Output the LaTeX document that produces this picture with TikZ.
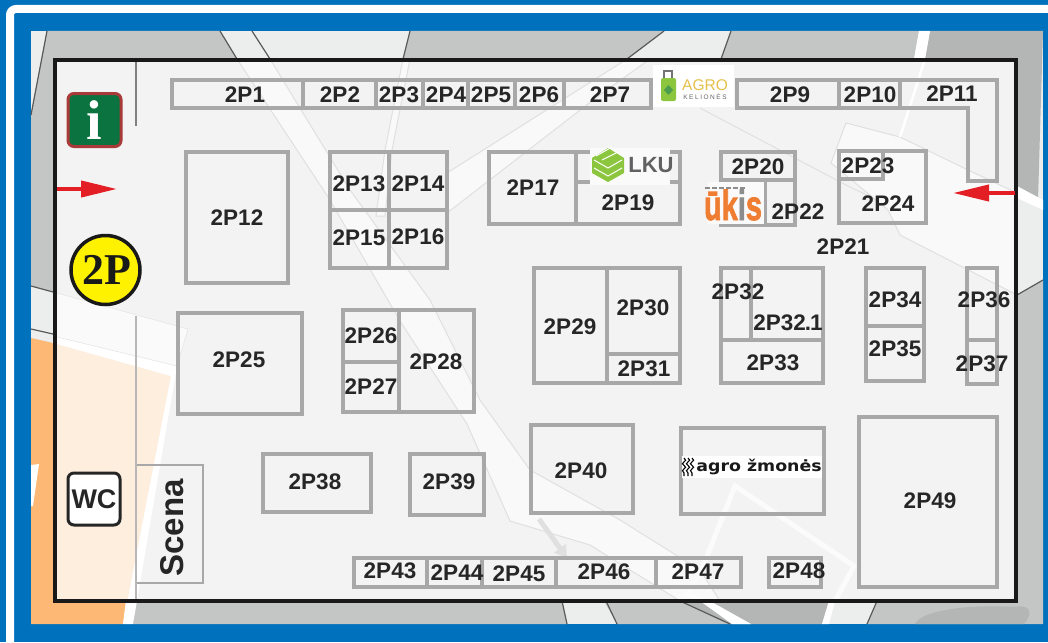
\documentclass[tikz,border=0pt]{standalone}
\usepackage{fontspec}
\setmainfont{Liberation Sans}
\newfontfamily\bookfont{Liberation Serif}
\newfontfamily\dejafont{DejaVu Sans}
\usetikzlibrary{arrows.meta,decorations.pathmorphing}
\definecolor{frameblue}{HTML}{0071BC}
\definecolor{roadgray}{HTML}{ECEDED}
\definecolor{housegray}{HTML}{C4C6C6}
\definecolor{darkhouse}{HTML}{B4B5B5}
\definecolor{hallgray}{HTML}{F3F3F3}
\definecolor{roadline}{HTML}{E0E0E0}
\definecolor{boothgray}{HTML}{A8A8A8}
\definecolor{orangeout}{HTML}{FCB874}
\definecolor{orangein}{HTML}{FDEEDD}
\definecolor{arrowred}{HTML}{E31E24}
\definecolor{logogreen}{HTML}{8CC63F}
\definecolor{logoorange}{HTML}{EF7D32}
\definecolor{logoyellow}{HTML}{E5C04A}
\definecolor{infogreen}{HTML}{0B7340}
\definecolor{infored}{HTML}{A83A3A}
\tikzset{
  booth/.style={draw=boothgray, line width=3.2pt},
  stand/.style={font=\bfseries\fontsize{22.5}{22.5}\selectfont, text=black!85, inner sep=0pt},
  edge/.style={draw=black!65, line width=1.2pt},
  faint/.style={fill=white!50!hallgray, draw=roadline, line width=1pt},
  wave/.style={draw=black, line width=1.1pt, decorate, decoration={snake, amplitude=1.6pt, segment length=7pt}},
}
\begin{document}
\begin{tikzpicture}[x=1pt,y=-1pt]
\useasboundingbox (0,0) rectangle (1048,642);
\clip (0,0) rectangle (1048,642);
\fill[frameblue] (0,0) rectangle (1048,642);
\draw[white, line width=8pt, rounded corners=6pt] (1070,9) -- (10,9) -- (10,670);
% map behind the hall
\fill[roadgray] (31,31) rectangle (1043,624);
\fill[housegray] (47,31) -- (220,31) -- (237,59) -- (53,59) -- (53,292) -- (31,286) -- (31,115) -- cycle;
\fill[housegray] (410,31) -- (664,31) -- (627,59) -- (403,59) -- cycle;
\fill[housegray] (731,31) -- (919,31) -- (914,59) -- (721,59) -- cycle;
\fill[darkhouse] (930,31) -- (1043,31) -- (1038,200) -- (1017,193) -- (1017,59) -- (925,59) -- cycle;
\fill[white] (919,31) -- (930,31) -- (925,59) -- (914,59) -- cycle;
\fill[white] (1017,186) -- (1043,200) -- (1043,210) -- (1017,198) -- cycle;
\fill[housegray] (1017,295) -- (1043,280) -- (1043,624) -- (867,624) -- (877,601) -- (1017,601) -- cycle;
\fill[darkhouse] (1014,607) .. controls (1030,604) and (1034,612) .. (1024,624) -- (915,624) .. controls (920,612) and (960,604) .. (1014,607) -- cycle;
\fill[housegray] (133,601) -- (562,601) -- (567,624) -- (133,624) -- cycle;
\fill[housegray] (604,601) -- (680,601) -- (730,624) -- (617,624) -- cycle;
\fill[darkhouse] (680,601) -- (829,601) -- (822,624) -- (730,624) -- cycle;
\fill[white] (700,601) -- (710,601) -- (751,624) -- (732,624) -- cycle;
\fill[white] (829,601) -- (835,601) -- (829,624) -- (822,624) -- cycle;
\fill[orangeout] (31,338) -- (53,343) -- (53,601) -- (126,601) -- (123,624) -- (31,624) -- cycle;
\fill[white] (126,601) -- (137,601) -- (133,624) -- (123,624) -- cycle;
\fill[white] (31,465) -- (39,464) -- (33,506) -- (31,506) -- cycle;
\draw[edge] (47,31) -- (31,115);
\draw[edge] (220,31) -- (237,59);
\draw[edge] (252,31) -- (270,59);
\draw[edge] (410,31) -- (403,59);
\draw[edge] (664,31) -- (627,59);
\draw[edge] (731,31) -- (721,59);
\draw[edge] (31,286) -- (53,292);
\draw[edge] (31,329) -- (53,334);
\draw[edge] (1017,295) -- (1043,280);
\draw[edge] (562,601) -- (567,624);
\draw[edge] (606,601) -- (617,624);
\draw[edge] (680,601) -- (730,624);
\draw[edge] (877,601) -- (867,624);
% hall floor
\fill[hallgray] (55,60) rectangle (1016,601);
\begin{scope}
\clip (55,60) rectangle (1016,601);
\fill[orangein] (53,343) -- (171,376) -- (123,624) -- (53,624) -- cycle;
\fill[white] (53,336) -- (177,366) -- (133,624) -- (123,624) -- (171,376) -- (53,343) -- cycle;
\fill[white!60!hallgray, draw=roadline] (53,292) -- (188,329) -- (177,366) -- (53,336) -- cycle;
\path[faint] (237,59) -- (270,59) -- (350,190) -- (430,300) -- (480,400) -- (530,470) -- (620,520) -- (700,570) -- (720,601) -- (680,601) -- (590,545) -- (510,521) -- (467,424) -- (400,321) -- (330,200) -- cycle;
\path[faint] (627,59) -- (447,173) -- (447,213) -- (597,97) -- (650,59) -- cycle;
\path[faint] (403,59) -- (410,59) -- (392,150) -- (385,216) -- (376,216) -- (385,150) -- cycle;
\draw[roadline, line width=1pt] (700,108) -- (846,185) -- (1016,267);
\path[faint] (846,123) -- (900,137) -- (968,170) -- (1017,193) -- (1017,295) -- (900,235) -- (888,210) -- (831,163) -- cycle;
\draw[white, line width=2.5pt] (925,59) -- (900,137);
\draw[white!70!hallgray, line width=5pt] (829,612) -- (854,566) -- (735,486) -- (701,571) -- (687,594) -- (751,622);
\draw[roadline, line width=5pt, -{Triangle[length=12pt,width=14pt]}] (539,519) -- (567,558);
\end{scope}
% booths
\draw[booth] (172,80) rectangle (651,108);
\draw[booth] (303,80) -- (303,108);
\draw[booth] (376,80) -- (376,108);
\draw[booth] (423,80) -- (423,108);
\draw[booth] (468,80) -- (468,108);
\draw[booth] (515,80) -- (515,108);
\draw[booth] (564,80) -- (564,108);
\draw[booth] (737,80) rectangle (900,108);
\draw[booth] (839,80) -- (839,108);
\draw[booth] (900,80) -- (997,80) -- (997,181) -- (968,181) -- (968,108) -- (900,108);
\draw[booth] (186,152) rectangle (288,283);
\draw[booth] (330,152) rectangle (447,268);
\draw[booth] (389,152) -- (389,268);
\draw[booth] (330,210) -- (447,210);
\draw[booth] (489,152) rectangle (680,224);
\draw[booth] (576,152) -- (576,224);
\draw[booth] (576,182) -- (680,182);
\draw[booth] (721,152) rectangle (795,225);
\draw[booth] (721,180) -- (795,180);
\draw[booth] (765,180) -- (765,225);
\draw[booth] (839,151) rectangle (926,223);
\draw[booth] (839,179) -- (883,179) -- (883,151);
\draw[booth] (534,268) rectangle (680,383);
\draw[booth] (607,268) -- (607,383);
\draw[booth] (607,354) -- (680,354);
\draw[booth] (721,268) rectangle (823,383);
\draw[booth] (751,268) -- (751,340);
\draw[booth] (721,340) -- (823,340);
\draw[booth] (866,268) rectangle (924,381);
\draw[booth] (866,326) -- (924,326);
\draw[booth] (967,268) rectangle (997,384);
\draw[booth] (967,340) -- (997,340);
\draw[booth] (178,313) rectangle (302,414);
\draw[booth] (343,310) rectangle (474,412);
\draw[booth] (399,310) -- (399,412);
\draw[booth] (343,362) -- (399,362);
\draw[booth] (263,454) rectangle (371,512);
\draw[booth] (410,454) rectangle (484,515);
\draw[booth] (531,425) rectangle (633,513);
\draw[booth] (681,428) rectangle (824,514);
\draw[booth] (859,417) rectangle (997,587);
\draw[booth] (354,558) rectangle (741,587);
\draw[booth] (427,558) -- (427,587);
\draw[booth] (482,558) -- (482,587);
\draw[booth] (556,558) -- (556,587);
\draw[booth] (656,558) -- (656,587);
\draw[booth] (769,558) rectangle (821,587);
\draw[boothgray, line width=2pt] (136,465) rectangle (203,583);
\draw[boothgray!80!hallgray, line width=2pt] (136,316) -- (136,601);
\draw[black!50, line width=2pt] (136,62) -- (136,126);
% frame
\draw[black!90, line width=4pt] (55,60) rectangle (1016,601);
% logos
\fill[white] (653,65) rectangle (734,107);
\fill[white!60!hallgray] (590,148) rectangle (670,185);
\fill[white!60!hallgray] (708,182) rectangle (764,224);
\fill[white] (682,456) rectangle (822,478);
\draw[black!55, line width=1.2pt] (664,78) -- (664,71) -- (672,71) -- (672,78);
\fill[logogreen, rounded corners=2pt] (661,78) rectangle (676,101);
\fill[green!45!black!70] (668.5,85) -- (673,90) -- (668.5,95) -- (664,90) -- cycle;
\node[text=logoyellow, font=\fontsize{15.5}{16}\selectfont, inner sep=0pt] (agrotxt) at (705,85.5) {AGRO};
\node[text=black!60, font=\fontsize{6.5}{6.5}\selectfont\addfontfeature{LetterSpace=24}, inner sep=0pt] (kelionestxt) at (705,96.5) {KELIONĖS};
\fill[logogreen] (608,148) -- (624,158) -- (624,173) -- (608,182) -- (592,173) -- (592,158) -- cycle;
\draw[white, line width=1pt] (594,160) -- (608,168) -- (622,160);
\draw[white, line width=1pt] (594,168) -- (608,176) -- (622,168);
\draw[white, line width=1pt] (596,156) -- (612,147);
\draw[white, line width=1pt] (602,160) -- (618,152);
\node[text=black!62, font=\bfseries\fontsize{22}{22}\selectfont, inner sep=0pt] (lkutxt) at (651,165) {LKU};
\node[font=\bfseries\fontsize{42}{42}\selectfont\addfontfeature{FakeBold=2}, xscale=.69, transform shape, inner sep=0pt, text=logoorange] (ukistxt) at (733,205) {ūk\textcolor{black!45}{i}s};
\draw[black!45, line width=2pt, dash pattern=on 5pt off 2pt] (705,188) -- (746,188);
\node[font=\dejafont\bfseries\fontsize{15.5}{16}\selectfont, xscale=1.12, transform shape, inner sep=0pt, text=black!90] (zmonestxt) at (759,467) {agro žmonės};
\draw[wave] (684,458) -- (684,476);
\draw[wave] (688,458) -- (688,476);
\draw[wave] (692,458) -- (692,476);
% signs
\node[draw=infored, fill=infogreen, line width=3pt, rounded corners=6pt, minimum width=53pt, minimum height=53pt, text=white, font=\bookfont\bfseries\fontsize{56}{56}\selectfont, inner sep=0pt] (infosign) at (94.5,120) {i};
\node[circle, draw=black!90, fill=yellow, line width=3.5pt, minimum size=69pt, inner sep=0pt, text=black!90, font=\bookfont\bfseries\fontsize{44}{44}\selectfont] (parksign) at (105.5,270) {\kern3pt 2P};
\node[draw=black!85, fill=white, line width=3pt, rounded corners=6pt, minimum width=52pt, minimum height=52pt, inner sep=0pt, text=black!85, font=\bfseries\fontsize{27}{27}\selectfont] (wcsign) at (94,499) {WC};
\node[rotate=90, inner sep=0pt, text=black!85, font=\bfseries\fontsize{33}{33}\selectfont] (scena) at (172,528) {Scena};
% arrows
\coordinate (inL) at (57,189);
\coordinate (inLtip) at (117,189);
\coordinate (inR) at (1015,193);
\coordinate (inRtip) at (953,193);
\draw[arrowred, line width=4pt, -{Triangle[length=36pt,width=16pt]}] (inL) -- (inLtip);
\draw[arrowred, line width=4pt, -{Triangle[length=36pt,width=16pt]}] (inR) -- (inRtip);
% numbers
\node[stand] (p1) at (245,95) {2P1};
\node[stand] (p2) at (340,95) {2P2};
\node[stand] (p3) at (399,95) {2P3};
\node[stand] (p4) at (446,95) {2P4};
\node[stand] (p5) at (491,95) {2P5};
\node[stand] (p6) at (539,95) {2P6};
\node[stand] (p7) at (610,95) {2P7};
\node[stand] (p9) at (790,95) {2P9};
\node[stand] (p10) at (870,95) {2P10};
\node[stand] (p11) at (952,94) {2P11};
\node[stand] (p12) at (237,218) {2P12};
\node[stand] (p13) at (359,184) {2P13};
\node[stand] (p14) at (418,184) {2P14};
\node[stand] (p15) at (359,238) {2P15};
\node[stand] (p16) at (418,237) {2P16};
\node[stand] (p17) at (533,188) {2P17};
\node[stand] (p19) at (628,203) {2P19};
\node[stand] (p20) at (758,167) {2P20};
\node[stand] (p21) at (843,247) {2P21};
\node[stand] (p22) at (798,212) {2P22};
\node[stand] (p23) at (868,166) {2P23};
\node[stand] (p24) at (888,204) {2P24};
\node[stand] (p25) at (239,360) {2P25};
\node[stand] (p26) at (371,336) {2P26};
\node[stand] (p27) at (371,387) {2P27};
\node[stand] (p28) at (436,362) {2P28};
\node[stand] (p29) at (570,327) {2P29};
\node[stand] (p30) at (643,308) {2P30};
\node[stand] (p31) at (644,369) {2P31};
\node[stand] (p32) at (738,292) {2P32};
\node[stand] (p321) at (788,323) {2P32\kern-1pt.\kern-1pt1};
\node[stand] (p33) at (773,363) {2P33};
\node[stand] (p34) at (895,300) {2P34};
\node[stand] (p35) at (895,349) {2P35};
\node[stand] (p36) at (984,300) {2P36};
\node[stand] (p37) at (982,364) {2P37};
\node[stand] (p38) at (315,482) {2P38};
\node[stand] (p39) at (449,482) {2P39};
\node[stand] (p40) at (581,471) {2P40};
\node[stand] (p43) at (390,571) {2P43};
\node[stand] (p44) at (457,573) {2P44};
\node[stand] (p45) at (519,574) {2P45};
\node[stand] (p46) at (604,572) {2P46};
\node[stand] (p47) at (698,572) {2P47};
\node[stand] (p48) at (799,571) {2P48};
\node[stand] (p49) at (930,501) {2P49};
\end{tikzpicture}
\end{document}
